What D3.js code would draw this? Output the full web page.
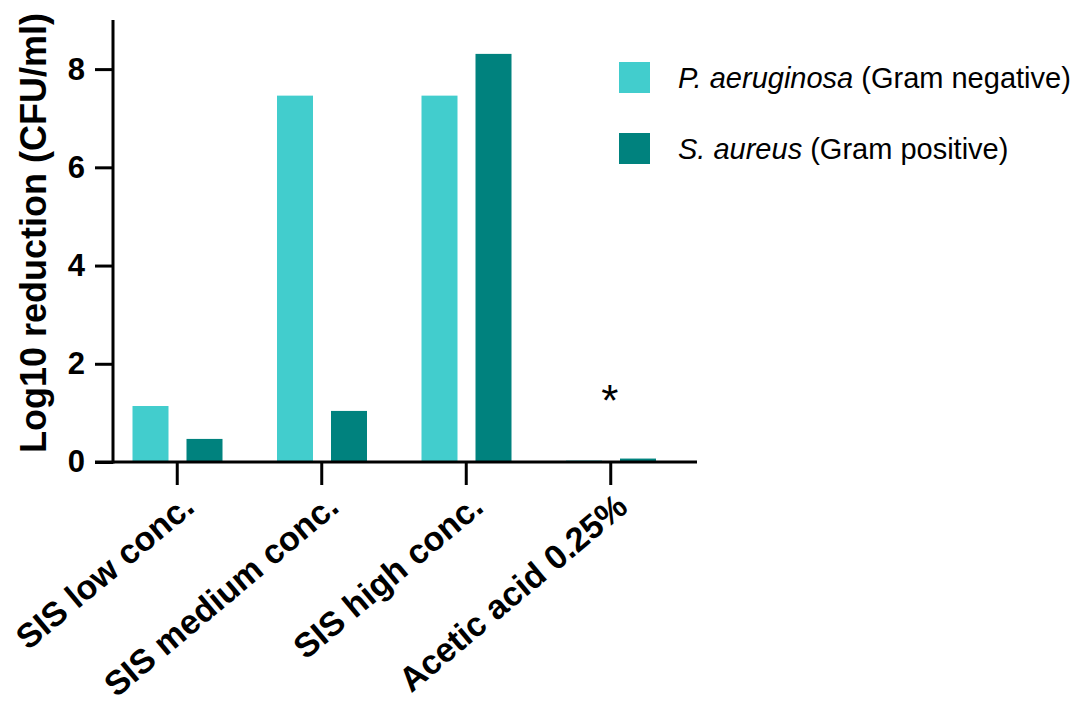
<!DOCTYPE html>
<html>
<head>
<meta charset="utf-8">
<script src="https://cdn.jsdelivr.net/npm/d3@7"></script>
<style>
  body { margin: 0; background: #fff; }
  svg text { font-family: "Liberation Sans", Arial, sans-serif; }
</style>
</head>
<body>
<svg class="main"></svg>
<script>
const categories = ["SIS low conc.", "SIS medium conc.", "SIS high conc.", "Acetic acid 0.25%"];
const seriesNames = ["P. aeruginosa", "S. aureus"];
const seriesSuffix = [" (Gram negative)", " (Gram positive)"];
const pAeruginosa = [1.14, 7.46, 7.46, 0.03];
const sAureus = [0.47, 1.04, 8.31, 0.07];
const yTicks = [0, 2, 4, 6, 8];
const colors = ["#42cdcd", "#00827e"];
// asterisk above acetic acid group
const marks = [{ cat: "Acetic acid 0.25%", text: "*", at: 0.93 }];

document.addEventListener("DOMContentLoaded", function() {
    const width = 1079;
    const height = 708;
    const svg = d3.select("svg.main")
        .attr("width", width)
        .attr("height", height);

    const x = d3.scaleBand()
        .domain(categories)
        .range([105, 683]);
    const xSub = d3.scaleBand()
        .domain(seriesNames)
        .range([27.5, 117.5])
        .paddingInner(1 / 3);
    const y = d3.scaleLinear()
        .domain([0, 9])
        .range([462, 20]);

    const rows = categories.map((c, i) => ({ cat: c, vals: [pAeruginosa[i], sAureus[i]] }));

    // bars
    const g = svg.append("g");
    rows.forEach(r => {
        r.vals.forEach((v, j) => {
            g.append("rect")
                .attr("x", x(r.cat) + xSub(seriesNames[j]))
                .attr("y", y(v))
                .attr("width", xSub.bandwidth())
                .attr("height", y(0) - y(v))
                .style("fill", colors[j]);
        });
    });

    // y axis
    const yAxis = svg.append("g")
        .attr("transform", "translate(113,0)")
        .call(d3.axisLeft(y).tickValues(yTicks).tickSize(18).tickPadding(10).tickSizeOuter(0));
    yAxis.select(".domain").remove();
    yAxis.selectAll(".tick line").style("stroke", "#000").style("stroke-width", 3);
    yAxis.selectAll(".tick text")
        .style("font-size", "31px")
        .style("font-weight", "bold")
        .style("fill", "#000");
    svg.append("line")
        .attr("x1", 113).attr("x2", 113)
        .attr("y1", y(9)).attr("y2", y(0) + 1.5)
        .style("stroke", "#000").style("stroke-width", 3);

    // x axis
    const xAxis = svg.append("g")
        .attr("transform", `translate(0,${y(0)})`)
        .call(d3.axisBottom(x).tickSize(23).tickSizeOuter(0));
    xAxis.select(".domain").remove();
    xAxis.selectAll(".tick line").style("stroke", "#000").style("stroke-width", 3);
    xAxis.selectAll(".tick text")
        .attr("text-anchor", "end")
        .attr("transform", "translate(19,48) rotate(-40)")
        .attr("x", 0).attr("y", 0).attr("dy", 0)
        .style("font-size", "34px")
        .style("font-weight", "bold")
        .style("fill", "#000");
    svg.append("line")
        .attr("x1", 95).attr("x2", 697)
        .attr("y1", y(0)).attr("y2", y(0))
        .style("stroke", "#000").style("stroke-width", 3);

    // y title
    svg.append("text")
        .attr("transform", "translate(46,233) rotate(-90)")
        .attr("text-anchor", "middle")
        .style("font-size", "36px")
        .style("font-weight", "bold")
        .text("Log10 reduction (CFU/ml)");

    // asterisk
    marks.forEach(m => {
        svg.append("text")
            .attr("x", x(m.cat) + x.bandwidth() / 2 - 1)
            .attr("y", y(m.at))
            .attr("text-anchor", "middle")
            .style("font-size", "44px")
            .text(m.text);
    });

    // legend
    const leg = svg.append("g").attr("transform", "translate(619,62)");
    seriesNames.forEach((s, i) => {
        const row = leg.append("g").attr("transform", `translate(0,${i * 71})`);
        row.append("rect")
            .attr("width", 31).attr("height", 31)
            .style("fill", colors[i]);
        const t = row.append("text")
            .attr("x", 59).attr("y", 26)
            .style("font-size", "29px");
        t.append("tspan").style("font-style", "italic").text(s);
        t.append("tspan").text(seriesSuffix[i]);
    });
});
</script>
</body>
</html>
